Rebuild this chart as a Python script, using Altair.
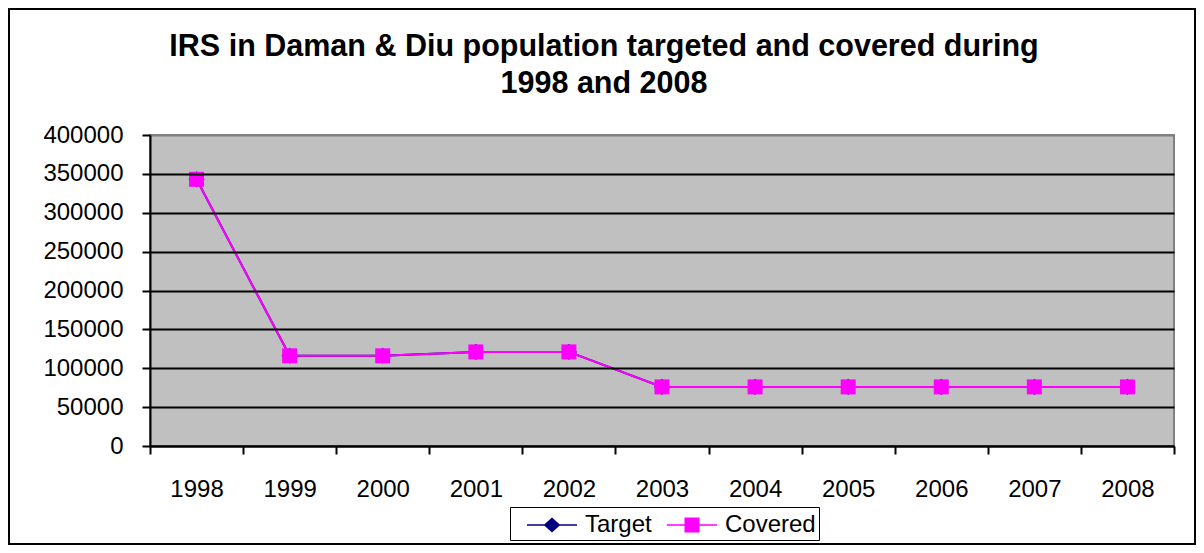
import altair as alt
import pandas as pd

# ---- data ----
years = ["1998", "1999", "2000", "2001", "2002", "2003", "2004", "2005", "2006", "2007", "2008"]
target = [343000, 116000, 116000, 121000, 121000, 76000, 76000, 76000, 76000, 76000, 76000]
covered = [343000, 116000, 116000, 121000, 121000, 76000, 76000, 76000, 76000, 76000, 76000]
series_names = ["Target", "Covered"]
series_colors = ["#000080", "#FF00FF"]
y_ticks = [0, 50000, 100000, 150000, 200000, 250000, 300000, 350000, 400000]
title_lines = ["IRS in Daman & Diu population targeted and covered during", "1998 and 2008"]

df = pd.DataFrame({
    "year": years * 2,
    "value": target + covered,
    "series": ["Target"] * len(years) + ["Covered"] * len(years),
})

FONT = "Liberation Sans"
W, H = 1024, 311

x_enc = alt.X(
    "year:O", sort=years,
    scale=alt.Scale(type="band", paddingInner=0, paddingOuter=0),
    axis=alt.Axis(title=None, tickBand="extent", labelAngle=0, labelFont=FONT,
                  labelFontSize=24, labelColor="black", labelPadding=23,
                  tickSize=8, tickWidth=2, tickColor="black",
                  domainColor="black", domainWidth=2, grid=False, zindex=1),
)
y_enc = alt.Y(
    "value:Q",
    scale=alt.Scale(domain=[0, 400000], nice=False),
    axis=alt.Axis(title=None, values=y_ticks, format="d", labelFont=FONT,
                  labelFontSize=24, labelColor="black", labelPadding=19,
                  tickSize=8, tickWidth=2, tickColor="black",
                  domainColor="black", domainWidth=2,
                  grid=True, gridWidth=2, zindex=1,
                  gridColor=alt.condition("datum.value >= 400000",
                                          alt.value("#808080"), alt.value("black"))),
)

base = alt.Chart(df).encode(x=x_enc, y=y_enc)

t_line = base.transform_filter("datum.series == 'Target'").mark_line(
    color=series_colors[0], strokeWidth=2)
t_pts = base.transform_filter("datum.series == 'Target'").mark_point(
    shape="diamond", filled=True, color=series_colors[0], size=260, opacity=1)
c_line = base.transform_filter("datum.series == 'Covered'").mark_line(
    color=series_colors[1], strokeWidth=2)
c_pts = base.transform_filter("datum.series == 'Covered'").mark_point(
    shape="square", filled=True, color=series_colors[1], size=225, opacity=1)

# legend symbols: a line with a marker in the middle
legend_paths = [
    "M-0.07,-0.05H1.1L1.6,-0.5L2.1,-0.05H3.27V0.05H2.1L1.6,0.5L1.1,0.05H-0.07Z",
    "M-0.07,-0.05H1.1V-0.5H2.1V-0.05H3.27V0.05H2.1V0.5H1.1V0.05H-0.07Z",
]
leg_common = dict(
    orient="none", legendX=360, legendY=372, direction="horizontal", title=None,
    labelFont=FONT, labelFontSize=24, labelColor="black", labelOffset=42,
    symbolSize=900, columnPadding=1, padding=3, strokeColor="black",
    symbolStrokeWidth=0,
)
legend_layer = alt.Chart(df).transform_filter("false").mark_point(
    filled=True, opacity=1, size=900).encode(
    color=alt.Color("series:N", scale=alt.Scale(domain=series_names, range=series_colors),
                    legend=alt.Legend(**leg_common)),
    shape=alt.Shape("series:N", scale=alt.Scale(domain=series_names, range=legend_paths),
                    legend=alt.Legend(**leg_common)),
)

one = pd.DataFrame({"k": [0]})
plot_bg = alt.Chart(one).mark_rect(
    fill="#C0C0C0", stroke="#808080", strokeWidth=2).encode(
    x=alt.value(0), x2=alt.value(W), y=alt.value(0), y2=alt.value(H))
frame = alt.Chart(one).mark_rect(
    fill="transparent", stroke="black", strokeWidth=2).encode(
    x=alt.value(-141), x2=alt.value(W + 21), y=alt.value(-126), y2=alt.value(H + 98))

chart = alt.layer(frame, plot_bg, t_line, t_pts, c_line, c_pts, legend_layer).properties(
    width=W, height=H,
    autosize=alt.AutoSizeParams(type="none"),
    padding={"left": 142, "top": 127, "right": 22, "bottom": 99},
    title=alt.TitleParams(text=title_lines, font=FONT, fontSize=30.5, fontWeight="bold",
                          color="black", anchor="middle", offset=-91, dx=-58, lineHeight=37),
).configure_view(strokeWidth=0)

chart.save("out.html", embed_options={"renderer": "svg", "actions": False})
